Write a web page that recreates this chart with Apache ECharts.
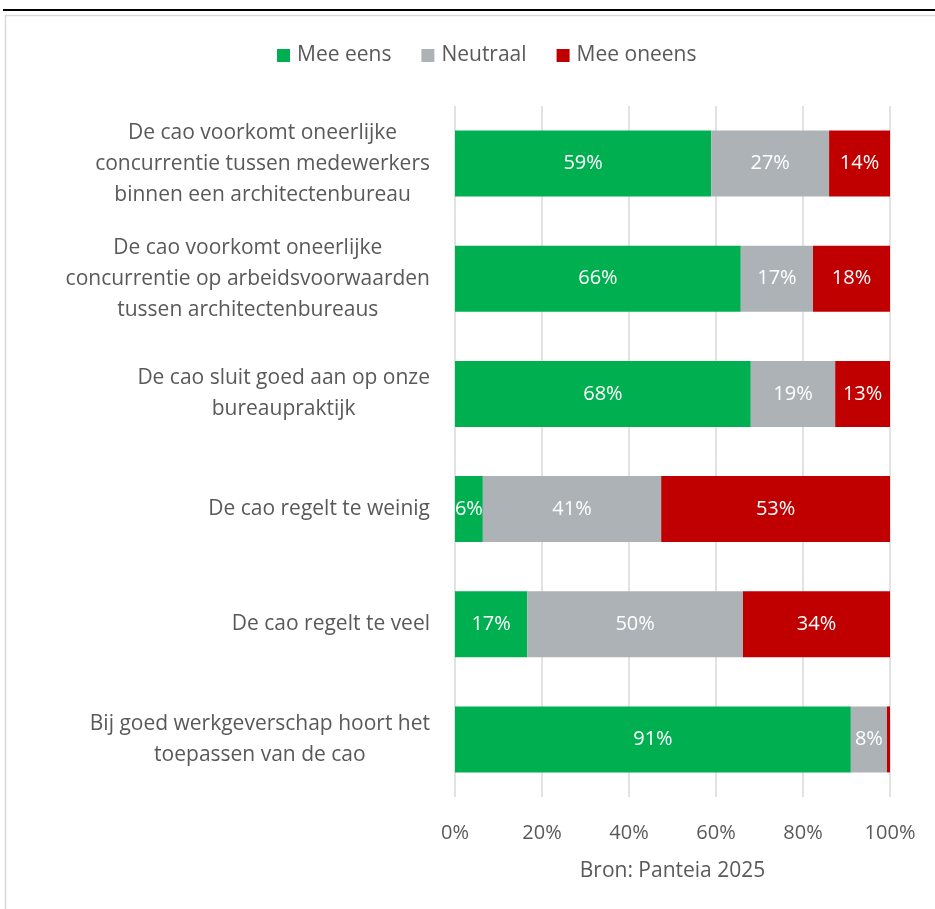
<!DOCTYPE html>
<html>
<head>
<meta charset="utf-8">
<script src="https://cdn.jsdelivr.net/npm/echarts@6/dist/echarts.min.js"></script>
<style>
  html, body { margin: 0; padding: 0; background: #fff; }
  #chart { width: 935px; height: 909px; }
</style>
</head>
<body>
<div id="chart"></div>
<script>
// Statements (top to bottom), each line of a statement is one array entry
const statements = [
  ['De cao voorkomt oneerlijke', 'concurrentie tussen medewerkers', 'binnen een architectenbureau'],
  ['De cao voorkomt oneerlijke', 'concurrentie op arbeidsvoorwaarden', 'tussen architectenbureaus'],
  ['De cao sluit goed aan op onze', 'bureaupraktijk'],
  ['De cao regelt te weinig'],
  ['De cao regelt te veel'],
  ['Bij goed werkgeverschap hoort het', 'toepassen van de cao']
];

// Share of respondents (%)
const meeEens    = [58.9, 65.7, 68.0, 6.4, 16.6, 91.0];
const neutraal   = [27.1, 16.6, 19.4, 41.0, 49.6, 8.3];
const meeOneens  = [14.0, 17.7, 12.6, 52.6, 33.8, 0.7];

const seriesNames = ['Mee eens', 'Neutraal', 'Mee oneens'];
const colors = ['#00B050', '#ADB2B7', '#C00000'];
const xTicks = [0, 20, 40, 60, 80, 100];

const FONT = 'Open Sans';
const TEXT = '#595959';

const categories = statements.map(lines => lines.join('\n'));

function barSeries(name, data, color) {
  return {
    name: name,
    type: 'bar',
    stack: 'total',
    data: data,
    barWidth: 66,
    itemStyle: { color: color },
    label: {
      show: true,
      position: 'inside',
      color: '#ffffff',
      fontFamily: FONT,
      fontSize: 20,
      formatter: p => (p.value < 3 ? '' : Math.round(p.value) + '%')
    },
    emphasis: { disabled: true }
  };
}

const chart = echarts.init(document.getElementById('chart'), null, { renderer: 'canvas' });

chart.setOption({
  animation: false,
  backgroundColor: '#ffffff',
  textStyle: { fontFamily: FONT },
  graphic: [
    {
      type: 'rect',
      shape: { x: 3, y: 9, width: 940, height: 2 },
      style: { fill: '#000000' },
      silent: true
    },
    {
      type: 'rect',
      shape: { x: 5.5, y: 15.5, width: 1000, height: 1000 },
      style: { fill: 'none', stroke: '#d9d9d9', lineWidth: 1.5 },
      silent: true
    }
  ],
  legend: {
    top: 40,
    left: 272,
    itemWidth: 13,
    itemHeight: 13,
    itemGap: 30,
    icon: 'rect',
    textStyle: { color: TEXT, fontSize: 21, fontFamily: FONT, padding: [0, 0, 0, 2] },
    data: seriesNames
  },
  grid: {
    left: 455,
    right: 45,
    top: 106,
    bottom: 112,
    containLabel: false
  },
  xAxis: {
    type: 'value',
    min: 0,
    max: 100,
    interval: 20,
    axisLine: { show: false },
    axisTick: { show: false },
    splitLine: { show: true, lineStyle: { color: '#d9d9d9', width: 1.5 } },
    axisLabel: {
      color: TEXT,
      fontSize: 20,
      fontFamily: FONT,
      margin: 26,
      formatter: v => (xTicks.includes(v) ? v + '%' : '')
    },
    name: 'Bron: Panteia 2025',
    nameLocation: 'middle',
    nameGap: 64,
    nameTextStyle: { color: TEXT, fontSize: 21, fontFamily: FONT }
  },
  yAxis: {
    type: 'category',
    inverse: true,
    data: categories,
    axisLine: { show: false },
    axisTick: { show: false },
    axisLabel: {
      margin: 25,
      align: 'right',
      color: TEXT,
      fontSize: 21,
      fontFamily: FONT,
      lineHeight: 31,
      formatter: v => v.split('\n').map(l => '{c|' + l + '}').join('\n'),
      rich: {
        c: { align: 'center', color: TEXT, fontSize: 21, fontFamily: FONT, lineHeight: 31 }
      }
    }
  },
  series: [
    barSeries(seriesNames[0], meeEens, colors[0]),
    barSeries(seriesNames[1], neutraal, colors[1]),
    barSeries(seriesNames[2], meeOneens, colors[2])
  ]
});
</script>
</body>
</html>
